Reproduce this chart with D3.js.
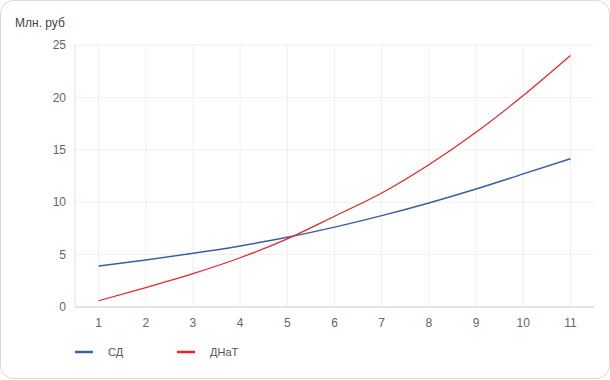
<!DOCTYPE html>
<html><head><meta charset="utf-8">
<script src="https://cdn.jsdelivr.net/npm/d3@7"></script>
<style>
html,body{margin:0;padding:0;background:#fff;}
svg{display:block;font-family:Arial,"Liberation Sans",sans-serif;}
</style></head>
<body><svg id="c" width="610" height="380"></svg>
<script>
const categories = [1,2,3,4,5,6,7,8,9,10,11];
const seriesNames = ["СД","ДНаТ"];
const sdValues = [3.9, 4.48, 5.12, 5.83, 6.65, 7.62, 8.72, 9.93, 11.26, 12.7, 14.15];
const dnatValues = [0.6, 1.85, 3.18, 4.7, 6.5, 8.66, 10.88, 13.58, 16.68, 20.18, 24.0];
const yTicks = [0,5,10,15,20,25];
const yTitle = "Млн. руб";
const colors = ["#3a5ea3","#e3262c"];

const svg = d3.select("#c");
svg.append("rect").attr("x",0.5).attr("y",0.5).attr("width",609).attr("height",378)
  .attr("rx",13).attr("fill","#fff").attr("stroke","#d9d9d9");

const x = d3.scaleLinear().domain([0.5,11.5]).range([75,594]);
const y = d3.scaleLinear().domain([0,25]).range([307,45]);

const g = svg.append("g");
// horizontal grid
g.selectAll(".hg").data(yTicks.filter(d=>d>0)).join("line")
  .attr("x1",75).attr("x2",594).attr("y1",d=>y(d)).attr("y2",d=>y(d))
  .attr("stroke","#f0f0f0");
// vertical grid
g.selectAll(".vg").data(categories).join("line")
  .attr("x1",d=>x(d)).attr("x2",d=>x(d)).attr("y1",45).attr("y2",307)
  .attr("stroke","#f0f0f0");
// axes lines
g.append("line").attr("x1",75).attr("x2",75).attr("y1",45).attr("y2",307).attr("stroke","#e0e0e0");
g.append("line").attr("x1",75).attr("x2",594).attr("y1",307).attr("y2",307).attr("stroke","#c8c8c8");

// y labels
g.selectAll(".yl").data(yTicks).join("text")
  .attr("x",66).attr("y",d=>y(d)).attr("dy","0.35em").attr("text-anchor","end")
  .attr("font-size",12).attr("fill","#666").text(d=>d);
// x labels
g.selectAll(".xl").data(categories).join("text")
  .attr("x",d=>x(d)).attr("y",327).attr("text-anchor","middle")
  .attr("font-size",12).attr("fill","#666").text(d=>d);

svg.append("text").attr("x",15).attr("y",27).attr("font-size",12).attr("fill","#444").text(yTitle);

const line = d3.line().x((d,i)=>x(categories[i])).y(d=>y(d)).curve(d3.curveMonotoneX);
[sdValues, dnatValues].forEach((vals,i)=>{
  g.append("path").attr("d",line(vals)).attr("fill","none")
   .attr("stroke",colors[i]).attr("stroke-width", i===0?1.5:1.2);
});

// legend
const lx = [75,177];
seriesNames.forEach((n,i)=>{
  svg.append("line").attr("x1",lx[i]).attr("x2",lx[i]+18).attr("y1",352).attr("y2",352)
    .attr("stroke",colors[i]).attr("stroke-width",2.5);
  svg.append("text").attr("x",lx[i]+33).attr("y",352).attr("dy","0.35em")
    .attr("font-size",11).attr("fill","#555").text(n);
});
</script></body></html>
